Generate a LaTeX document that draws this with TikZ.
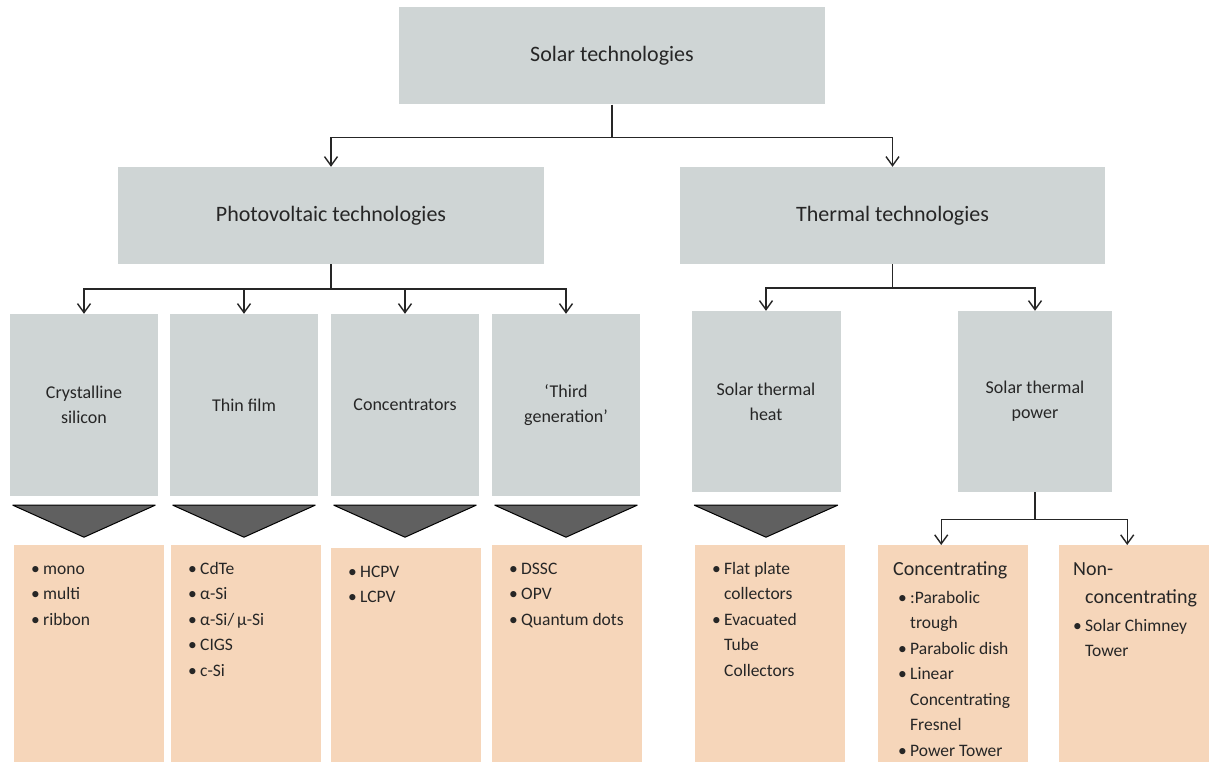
\documentclass[tikz,border=0pt]{standalone}
\usepackage{fontspec}
\setmainfont{Carlito}
\usetikzlibrary{
    arrows.meta,
    calc,
    positioning
}
\definecolor{boxgray}{RGB}{207,213,213}
\definecolor{listpeach}{RGB}{246,214,186}
\definecolor{wedgegray}{RGB}{96,96,96}
\tikzset{
    every picture/.style = {
        > = {Straight Barb[length=9pt, width=13pt]}
    },
    head/.style = {
        fill = boxgray,
        text = black!85,
        minimum width = 426pt,
        minimum height = 97pt,
        font = \fontsize{22}{26}\selectfont
    },
    tech/.style = {
        fill = boxgray,
        text = black!85,
        minimum width = 148pt,
        minimum height = 182pt,
        align = center,
        font = \fontsize{18}{25}\selectfont
    },
    list/.style = {
        fill = listpeach,
        text = black!85,
        inner sep = 0pt,
        anchor = north west
    },
    link/.style = {
        draw = black!85,
        line width = 1.4pt
    },
    wedge/.style = {
        draw = black,
        fill = wedgegray,
        line width = 1pt,
        line join = round
    }
}
% list contents: peach box with text at the top
\newcommand{\listtext}[2][17pt]{%
    \parbox[t][220pt][t]{150pt}{\fontsize{17.5}{25.5}\selectfont
        \raggedright\leftskip=#1\relax\vspace*{11pt}#2}}
\newcommand{\bul}[1]{\par\hangindent=12pt\hangafter=1
    \noindent\makebox[12pt][l]{\textbullet}\strut#1\par}
\newcommand{\lhead}[2][0pt]{\par\hangindent=12pt\hangafter=1
    \noindent\hspace*{#1}{\fontsize{20}{28}\selectfont\strut#2\par}}

\begin{document}
\begin{tikzpicture}[x = 1pt, y = -1pt]
    \useasboundingbox (0,0) rectangle (1216,762);
    \fill[white] (0,0) rectangle (1216,762);

    % top levels
    \node[head] (solar) at (612,56) {Solar technologies};
    \node[head] (pv) at (331,215.5) {Photovoltaic technologies};
    \node[head, minimum width = 425pt] (thermal) at (892.5,215.5) {Thermal technologies};

    % technology boxes
    \node[tech] (csi) at (84,405) {Crystalline\\silicon};
    \node[tech] (thin) at (244,405) {Thin film};
    \node[tech] (conc) at (405,405) {Concentrators};
    \node[tech] (third) at (566,405) {‘Third\\generation’};
    \node[tech, minimum width = 149pt, minimum height = 181pt] (heat) at (766,401.5) {Solar thermal\\heat};
    \node[tech, minimum width = 154pt, minimum height = 181pt] (power) at (1035,401.5) {Solar thermal\\power};

    % connectors
    \coordinate (jsolar) at ($(solar.south)+(0,33)$);
    \draw[link] (solar.south) -- (jsolar);
    \draw[link, ->] (jsolar) -| (pv.north);
    \draw[link, ->] (jsolar) -| (thermal.north);

    \coordinate (jpv) at ($(pv.south)+(0,25)$);
    \draw[link] (pv.south) -- (jpv);
    \foreach \n in {csi, thin, conc, third}
        \draw[link, ->] (jpv) -| (\n.north);

    \coordinate (jthermal) at ($(thermal.south)+(0,24)$);
    \draw[link] (thermal.south) -- (jthermal);
    \draw[link, ->] (jthermal) -| (heat.north);
    \draw[link, ->] (jthermal) -| (power.north);

    % wedges
    \foreach \n/\dy in {csi/9, thin/9, conc/9, third/9, heat/13}
        \draw[wedge] ($(\n.south west)+(3,\dy)$) -- ($(\n.south east)+(-3,\dy)$)
            -- ($(\n.south)+(0,\dy+32)$) -- cycle;

    % lists
    \node[list] (lsi) at (14,545) {\listtext{%
        \bul{mono}\bul{multi}\bul{ribbon}}};
    \node[list] (lfilm) at (171,545) {\listtext{%
        \bul{CdTe}\bul{α-Si}\bul{α-Si/\,µ-Si}\bul{CIGS}\bul{c-Si}}};
    \node[list] (lcpv) at (331,548) {\listtext{%
        \bul{HCPV}\bul{LCPV}}};
    \node[list] (lthird) at (492,545) {\listtext{%
        \bul{DSSC}\bul{OPV}\bul{Quantum dots}}};
    \node[list] (lheat) at (695,545) {\listtext{%
        \bul{Flat plate\newline\strut collectors}%
        \bul{Evacuated\newline\strut Tube\newline\strut Collectors}}};
    \node[list] (lconc) at (878,545) {\listtext[20pt]{%
        \lhead[-5pt]{Concentrating}%
        \bul{:Parabolic\newline\strut trough}\bul{Parabolic dish}%
        \bul{Linear\newline\strut Concentrating\newline\strut Fresnel}%
        \bul{Power Tower}}};
    \node[list] (lnonc) at (1059,545) {\listtext[14pt]{%
        \lhead{Non-\newline\strut concentrating}%
        \bul{Solar Chimney\newline\strut Tower}}};

    \coordinate (jpower) at ($(power.south)+(0,27)$);
    \draw[link] (power.south) -- (jpower);
    \draw[link, ->] (jpower) -| ([xshift=-12pt]lconc.north);
    \draw[link, ->] (jpower) -| ([xshift=-7pt]lnonc.north);
\end{tikzpicture}
\end{document}
